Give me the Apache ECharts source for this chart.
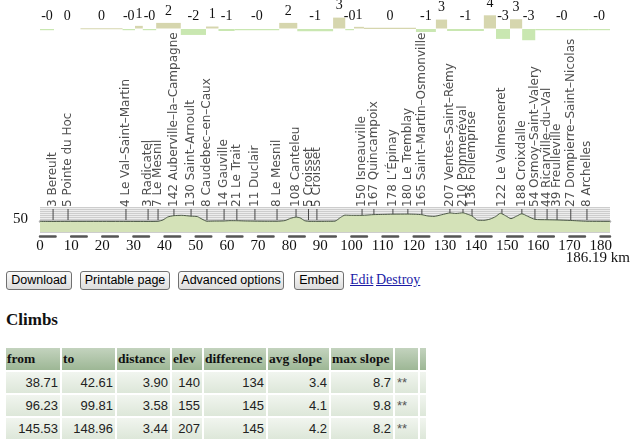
<!DOCTYPE html>
<html><head><meta charset="utf-8">
<script src="https://cdn.jsdelivr.net/npm/echarts@6/dist/echarts.min.js"></script>
<style>
html,body{margin:0;padding:0;background:#fff;width:640px;height:440px;overflow:hidden;}
#chart{position:absolute;left:0;top:0;width:640px;height:268px;}
.btn{position:absolute;top:271px;height:19px;box-sizing:border-box;border:1px solid #707070;border-radius:3px;
 background:linear-gradient(#fbfbfb,#dcdcdc);font:12.5px "Liberation Sans",Arial,sans-serif;color:#000;text-align:center;line-height:17px;}
.lnk{position:absolute;top:272px;font:14px "Liberation Serif",serif;color:#1a1aa6;text-decoration:underline;}
#climbs{position:absolute;left:6px;top:310px;font:bold 17px "Liberation Serif",serif;color:#111;}
#tbl{position:absolute;left:4px;top:346px;border-collapse:separate;border-spacing:2px;table-layout:fixed;}
#tbl th{height:22px;padding:0 1px;text-align:left;font:bold 13.5px "Liberation Serif",serif;color:#111;white-space:nowrap;overflow:hidden;
 background:linear-gradient(#c3d3be,#9db795);box-sizing:border-box;}
#tbl td{height:21px;padding:0 2px;text-align:right;font:13px "Liberation Sans",Arial,sans-serif;color:#222;white-space:nowrap;
 background:linear-gradient(#f1f5ef,#dde7d9);box-sizing:border-box;}
#tbl td.st{text-align:left;color:#555;}
</style></head>
<body>
<div id="chart"></div>
<div class="btn" style="left:6px;width:66px">Download</div>
<div class="btn" style="left:80px;width:90px">Printable page</div>
<div class="btn" style="left:178px;width:106px">Advanced options</div>
<div class="btn" style="left:294px;width:50px">Embed</div>
<span class="lnk" style="left:350px">Edit</span>
<span class="lnk" style="left:376px">Destroy</span>
<div id="climbs">Climbs</div>
<table id="tbl"></table>
<script>
// ---- data ----
const profileKm   = [0,4.2,9,18,27.6,34.7,37.9,39.5,41,43,45.5,48.5,50.5,52,53.6,56,59.1,61,63.2,66,69,73,76.1,78.7,80.5,82.2,83.5,85,86.7,88.9,92,94.7,96.5,97.9,100,103.4,107.2,110,113.3,118.1,120.5,122.6,124.5,126.5,129,131.6,133.5,135.8,137.5,138.7,140.5,142.5,144.5,146.3,147.8,149.5,151.2,153,154.7,156.5,158.9,162.8,166,170.4,175.6,183];
const profileElev = [5,3,5,5,4,3,7,40,110,142,150,130,120,60,8,12,14,22,21,14,11,8,8,25,80,108,90,20,5,5,6,10,100,155,150,150,167,172,178,180,175,165,135,125,165,207,195,210,170,136,35,30,60,120,200,140,70,130,188,130,54,44,39,27,8,5];

const waypointKm   = [4.2,9.0,27.6,34.7,37.9,43.0,48.5,53.6,59.1,63.2,69.0,76.1,82.2,86.2,88.9,103.4,107.2,113.3,118.1,122.6,131.6,135.8,138.7,148.3,154.7,158.9,162.8,166.0,170.4,175.6];
const waypointElev = [3,5,4,3,7,142,130,8,14,21,11,8,108,5,5,150,167,178,180,165,207,210,136,122,188,54,44,39,27,8];
const waypointName = ['Bereult','Pointe du Hoc','Le Val\u2013Saint\u2013Martin','Radicatel','Le Mesnil','Auberville\u2013la\u2013Campagne','Saint\u2013Arnoult','Caudebec\u2013en\u2013Caux','Gauville','Le Trait','Duclair','Le Mesnil','Canteleu','Croisset','Croisset','Isneauville','Quincampoix','L\u2019\u00c9pinay','Le Tremblay','Saint\u2013Martin\u2013Osmonville','Ventes\u2013Saint\u2013R\u00e9my','Pommer\u00e9val','Follemprise','Le Valmesneret','Croixdalle','Osmoy\u2013Saint\u2013Valery','Ricarville\u2013du\u2013Val','Freulleville','Dompierre\u2013Saint\u2013Nicolas','Archelles'];

const slopeStart = [0,4.5,13,26.5,30.5,33,37.3,45.2,53.3,57.3,62.5,76.8,82.6,94.1,98,100.8,104,120.7,127.1,130.7,142.5,146.4,150.9,154.8,159,176];
const slopeEnd   = [4.5,13,26.5,30.5,33,37.3,45.2,53.3,57.3,62.5,76.8,82.6,94.1,98,100.8,104,120.7,127.1,130.7,142.5,146.4,150.9,154.8,159,176,183];
const slopeValue = [-0.2,0.0,0.1,-0.2,0.8,-0.3,1.7,-1.8,0.6,-0.6,-0.1,1.7,-0.7,3.3,-0.2,0.5,0.2,-0.9,2.7,-0.6,4.0,-3.0,2.8,-3.4,-0.2,-0.2];

const xTicks = [0,180,10];           // min, last labelled tick, step
const xMax = 183;
const totalLength = '186.19 km';
const yTickLabel = 50;

const tableHeader = ['from','to','distance','elev','difference','avg slope','max slope','',''];
const climbFrom = ['38.71','96.23','145.53'];
const climbTo   = ['42.61','99.81','148.96'];
const climbDist = ['3.90','3.58','3.44'];
const climbElev = ['140','155','207'];
const climbDiff = ['134','145','145'];
const climbAvg  = ['3.4','4.1','4.2'];
const climbMax  = ['8.7','9.8','8.2'];
const climbStars = ['**','**','**'];

// ---- table ----
const colW = [54,53,53,30,62,61,62,23,6];
let html = '<colgroup>' + colW.map(w => '<col style="width:' + w + 'px">').join('') + '</colgroup>';
html += '<tr>' + tableHeader.map(h => '<th>' + h + '</th>').join('') + '</tr>';
for (let i = 0; i < climbFrom.length; i++) {
  html += '<tr>' + [climbFrom[i],climbTo[i],climbDist[i],climbElev[i],climbDiff[i],climbAvg[i],climbMax[i]].map(v => '<td>' + v + '</td>').join('')
       + '<td class="st">' + climbStars[i] + '</td><td></td></tr>';
}
document.getElementById('tbl').innerHTML = html;

// ---- chart ----
const fmtSlope = v => v < 0 ? '-' + Math.round(Math.abs(v)) : String(Math.round(v));
const chart = echarts.init(document.getElementById('chart'), null, {renderer: 'canvas'});
const serif = '"Liberation Serif", "Times New Roman", serif';

chart.setOption({
  animation: false,
  graphic: [
    {type: 'text', right: 10, top: 251, silent: true,
     style: {text: totalLength, font: '15px "Liberation Serif", serif', fill: '#111'}}
  ],
  grid: [
    {left: 40, right: 30, top: 12, height: 33, outerBoundsMode: 'none', containLabel: false},
    {left: 40, right: 30, top: 207, height: 25, outerBoundsMode: 'none', containLabel: false}
  ],
  xAxis: [
    {gridIndex: 0, type: 'value', min: 0, max: xMax, show: false},
    {gridIndex: 1, type: 'value', min: 0, max: xMax, interval: xTicks[2], position: 'bottom', offset: 4,
     axisLine: {show: true, lineStyle: {color: '#b0b0b0', width: 2.5}},
     axisTick: {show: false}, splitLine: {show: false},
     axisLabel: {margin: 3, fontFamily: serif, fontSize: 15, color: '#111',
       formatter: v => (v <= xTicks[1] ? String(v) : '')}},
    {gridIndex: 1, type: 'value', min: 0, max: xMax, position: 'bottom', offset: 4,
     axisLine: {show: true, lineStyle: {color: '#555', width: 2.5, type: [15.57, 15.57]}},
     axisTick: {show: false}, axisLabel: {show: false}, splitLine: {show: false}}
  ],
  yAxis: [
    {gridIndex: 0, type: 'value', min: -5, max: 5, show: false},
    {gridIndex: 1, type: 'value', min: -250, max: 350, interval: 50,
     axisLine: {show: false}, axisTick: {show: false},
     axisLabel: {margin: 12, fontFamily: serif, fontSize: 15, color: '#111',
       formatter: v => (v === yTickLabel ? String(v) : '')},
     splitLine: {show: true, lineStyle: {color: '#cdcdcd', width: 1}},
     splitArea: {show: true, areaStyle: {color: ['#ededed']}}}
  ],
  series: [
    {
      type: 'custom', xAxisIndex: 0, yAxisIndex: 0, silent: true,
      data: slopeStart.map((s, i) => [s, slopeEnd[i], slopeValue[i]]),
      renderItem: (params, api) => {
        const s = api.value(0), e = api.value(1), v = api.value(2);
        const p0 = api.coord([s, 0]), p1 = api.coord([e, v]);
        const x = p0[0], w = p1[0] - p0[0];
        const top = Math.min(p0[1], p1[1]);
        const h = Math.abs(p1[1] - p0[1]);
        const children = [];
        if (v !== 0) {
          children.push({type: 'rect', shape: {x: x, y: v >= 0 ? top : p0[1] + 0.5, width: w, height: Math.max(h, 1.2)},
            style: {fill: v >= 0 ? '#d6d6ae' : '#c9e7b1'}});
        }
        children.push({type: 'text', x: x + w / 2, y: top - 5,
          style: {text: fmtSlope(v), textAlign: 'center', textVerticalAlign: 'bottom',
                  font: '14px "Liberation Serif", serif', fill: '#111'}});
        return {type: 'group', children: children};
      }
    },
    {
      type: 'line', xAxisIndex: 1, yAxisIndex: 1, silent: true,
      data: profileKm.map((k, i) => [k, profileElev[i]]),
      symbol: 'none', smooth: 0.2,
      lineStyle: {color: '#4d5a48', width: 1},
      areaStyle: {color: '#d4e2b8', opacity: 1, origin: 'start'}
    },
    {
      type: 'scatter', xAxisIndex: 1, yAxisIndex: 1, silent: true,
      data: waypointKm.map((k, i) => [k, 170, waypointElev[i], waypointName[i]]),
      symbol: 'rect', symbolSize: [1, 11],
      itemStyle: {color: '#222'},
      label: {show: true, position: 'top', distance: 2, rotate: 90, align: 'left', verticalAlign: 'middle',
        fontFamily: '"DejaVu Sans", sans-serif', fontSize: 12, color: '#222',
        formatter: p => p.value[2] + ' ' + p.value[3]}
    }
  ]
});
</script>
</body></html>
